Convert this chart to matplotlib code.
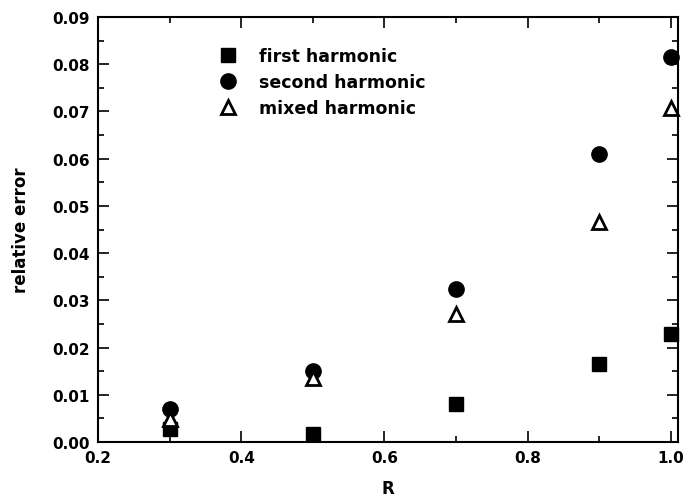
#!/usr/bin/env python
import matplotlib
matplotlib.use('Agg')
import matplotlib.pyplot as plt
from matplotlib.ticker import MultipleLocator

R = [0.3, 0.5, 0.7, 0.9, 1.0]
first_harmonic = [0.0028, 0.0018, 0.0080, 0.0165, 0.0228]
second_harmonic = [0.0069, 0.0151, 0.0324, 0.0610, 0.0815]
mixed_harmonic = [0.0049, 0.0136, 0.0272, 0.0465, 0.0708]

plt.rcParams['font.family'] = ['DejaVu Sans']
plt.rcParams['font.weight'] = 'bold'

fig = plt.figure(figsize=(6.99, 5.02), dpi=100)
ax = fig.add_axes([98 / 699, 1 - 443 / 502, 580 / 699, 425 / 502])

ax.plot(R, first_harmonic, 's', color='black', ms=10, label='first harmonic', clip_on=False)
ax.plot(R, second_harmonic, 'o', color='black', ms=11, label='second harmonic', clip_on=False)
ax.plot(R, mixed_harmonic, '^', mfc='white', mec='black', mew=2, ms=10,
        label='mixed harmonic', clip_on=False)

ax.set_xlim(0.2, 1.01)
ax.set_ylim(0, 0.09)
ax.xaxis.set_major_locator(MultipleLocator(0.2))
ax.xaxis.set_minor_locator(MultipleLocator(0.1))
ax.yaxis.set_major_locator(MultipleLocator(0.01))
ax.yaxis.set_minor_locator(MultipleLocator(0.005))
ax.xaxis.set_major_formatter(plt.FormatStrFormatter('%.1f'))
ax.yaxis.set_major_formatter(plt.FormatStrFormatter('%.2f'))

ax.tick_params(which='both', direction='in', top=True, right=True, width=1.2,
               labelsize=11, pad=6)
ax.tick_params(which='major', length=8)
ax.tick_params(which='minor', length=4)
for sp in ax.spines.values():
    sp.set_linewidth(1.5)

ax.set_xlabel('R', fontsize=12, fontweight='bold', labelpad=10)
ax.set_ylabel('relative error', fontsize=12, fontweight='bold', labelpad=16)

leg = ax.legend(loc='upper left', bbox_to_anchor=(0.168, 0.965), frameon=False,
                fontsize=12.5, handletextpad=0.75, labelspacing=0.45, numpoints=1)

fig.savefig('out.png', dpi=100)
